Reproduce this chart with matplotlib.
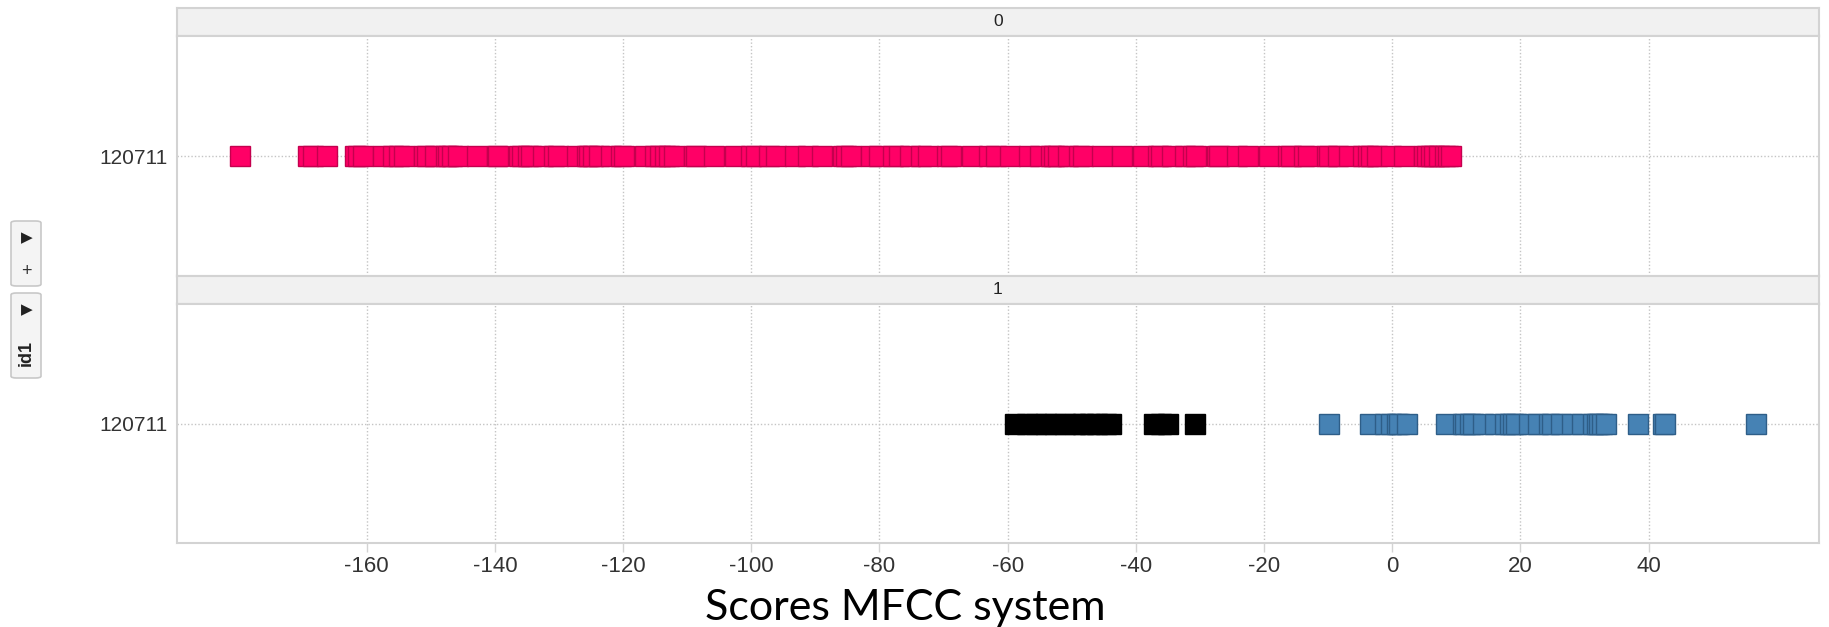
import matplotlib
matplotlib.use("Agg")
import matplotlib.pyplot as plt
from matplotlib.patches import FancyBboxPatch

# data
category = "120711"
panels = ["0", "1"]
pink_scores = [-179.8, -169.2, -168.4, -166.2, -161.8, -161.4, -160.6, -157.5, -155.9,
               -154.9, -154.2, -151.0, -150.6, -149.3, -147.6, -147.3, -146.7, -145.8,
               -142.8, -139.7, -139.5, -136.2, -135.8, -134.9, -134.3, -132.5, -130.7,
               -130.2, -127.2, -125.7, -125.3, -124.7, -123.7, -121.9, -120.3, -119.8,
               -116.6, -115.0, -114.3, -113.5, -112.8, -112.0, -108.9, -108.6, -105.8,
               -102.6, -100.0, -99.3, -97.2, -96.1, -93.1, -91.2, -88.9, -85.7, -85.2,
               -84.5, -81.3, -80.0, -77.9, -76.9, -75.2, -73.5, -72.5, -69.4, -68.8,
               -65.5, -62.9, -61.8, -59.7, -56.6, -55.0, -53.2, -52.7, -52.2, -50.5,
               -48.8, -48.3, -45.2, -42.1, -38.9, -36.6, -36.1, -34.3, -32.4, -31.1,
               -30.6, -27.3, -27.0, -24.2, -22.5, -19.2, -16.3, -15.8, -13.7, -13.2,
               -10.1, -9.8, -8.4, -6.7, -4.5, -3.8, -3.3, -2.3, -0.2, 1.9, 5.0, 5.5,
               6.0, 6.6, 7.3, 8.2, 8.7, 9.2]
black_scores = [-58.8, -57.0, -55.5, -54.0, -52.6, -51.0, -49.5, -48.2, -47.1, -46.0,
                -44.6, -43.8, -37.2, -36.0, -35.0, -30.7]
blue_scores = [-9.8, -3.5, -1.1, -0.2, 0.7, 1.1, 2.3, 8.4, 11.0, 11.4, 12.1, 12.6, 14.2,
               16.0, 17.6, 18.4, 18.9, 19.4, 21.3, 22.8, 24.4, 24.9, 26.3, 28.1, 29.6,
               31.3, 31.9, 32.3, 32.8, 33.3, 38.3, 42.2, 42.6, 56.7]
xticks = [-160, -140, -120, -100, -80, -60, -40, -20, 0, 20, 40]

W, H = 1829, 627
fig = plt.figure(figsize=(W / 100, H / 100), dpi=100)
plt.rcParams['font.family'] = ['Liberation Sans', 'DejaVu Sans']
plt.rcParams['axes.unicode_minus'] = False

BORDER = "#D3D3D3"
GRID = "#C4C4C4"


def px_axes(x0, y0, x1, y1):
    return fig.add_axes([x0 / W, 1 - y1 / H, (x1 - x0) / W, (y1 - y0) / H])


def strip(x0, y0, x1, y1, label):
    ax = px_axes(x0, y0, x1, y1)
    ax.set_facecolor("#F1F1F1")
    ax.set_xticks([])
    ax.set_yticks([])
    for s in ax.spines.values():
        s.set_color(BORDER)
        s.set_linewidth(1.5)
    ax.text(0.5, 0.5, label, ha="center", va="center", fontsize=12.5,
            color="#222222", transform=ax.transAxes)


def panel(y0, y1, series, show_x):
    ax = px_axes(177, y0, 1819, y1)
    for vals, face, edge in series:
        ax.plot(vals, [0] * len(vals), ls="none", marker="s", ms=15,
                mfc=face, mec=edge, mew=1.0, zorder=3)
    ax.set_xlim(-189.6, 66.6)
    ax.set_ylim(-1, 1)
    ax.set_xticks(xticks)
    ax.set_yticks([0])
    ax.set_yticklabels([category])
    ax.grid(True, ls=(0, (1, 1.5)), color=GRID, lw=1, zorder=0)
    ax.tick_params(axis="y", length=0, pad=7, labelsize=15, labelcolor="#333333")
    if show_x:
        ax.tick_params(axis="x", length=6.5, width=1, color=BORDER, pad=3,
                       labelsize=16, labelcolor="#333333")
    else:
        ax.tick_params(axis="x", length=0, labelbottom=False)
    for s in ax.spines.values():
        s.set_color(BORDER)
        s.set_linewidth(1.5)
    return ax


strip(177, 8, 1819, 36, panels[0])
panel(36, 276, [(pink_scores, "#FF0066", "#C4004E")], False)
strip(177, 276, 1819, 304, panels[1])
panel(304, 543, [(black_scores, "#000000", "#000000"),
                 (blue_scores, "#4682B4", "#2E5E88")], True)

# little facet controls on the left
for (y0, y1) in [(221, 286), (293, 378)]:
    fig.patches.append(FancyBboxPatch((11 / W, 1 - y1 / H), 30 / W, (y1 - y0) / H,
                                      boxstyle="round,pad=0,rounding_size=0.003",
                                      transform=fig.transFigure, fc="#F4F4F4",
                                      ec="#C8C8C8", lw=1.2))
for yy in [238, 310]:
    fig.text(27 / W, 1 - yy / H, "\u25B6", ha="center", va="center", fontsize=11,
             color="#222222", family="DejaVu Sans")
fig.text(26 / W, 1 - 272 / H, "+", ha="center", va="center", fontsize=13,
         color="#333333")
fig.text(26 / W, 1 - 353 / H, "id1", ha="center", va="center", fontsize=13,
         fontweight="bold", rotation=90, color="#222222")

fig.text(905 / W, 1 - 620 / H, "Scores MFCC system", ha="center", va="baseline",
         fontsize=31, family="Lato", color="black")

fig.savefig("out.png", dpi=100)
